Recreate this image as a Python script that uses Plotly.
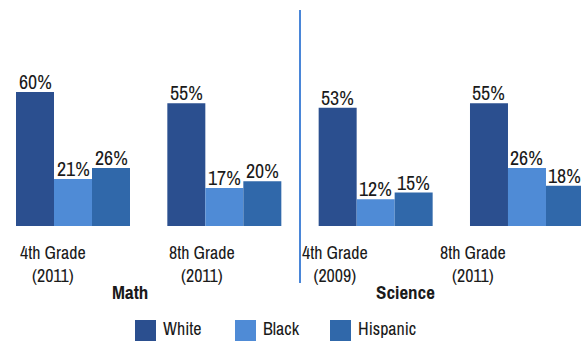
import plotly.graph_objects as go

# Percent of students at or above proficient, by grade and subject
groups = ["4th Grade<br>(2011)", "8th Grade<br>(2011)", "4th Grade<br>(2009)", "8th Grade<br>(2011)"]
series = ["White", "Black", "Hispanic"]
white = [60, 55, 53, 55]
black = [21, 17, 12, 26]
hispanic = [26, 20, 15, 18]
subjects = ["Math", "Science"]

colors = {"White": "#2b4f8f", "Black": "#4f8bd6", "Hispanic": "#3068aa"}
values = {"White": white, "Black": black, "Hispanic": hispanic}

FONT = "Archivo Narrow, Liberation Sans Narrow, Arial Narrow, sans-serif"
INK = "#1a1a1a"
W, H = 581, 341
BAR_PX = 38  # pixel width of one bar inside a group
x = list(range(len(groups)))

fig = go.Figure()
for k, name in enumerate(series):
    fig.add_trace(go.Bar(
        x=x, y=values[name], name=name,
        marker=dict(color=colors[name], line=dict(width=0)),
        showlegend=False, hoverinfo="x+y",
    ))
    # value labels sitting just above each bar
    for i, v in zip(x, values[name]):
        fig.add_annotation(x=i, y=v, xref="x", yref="y", text=f"{v}%", showarrow=False,
                           xshift=(k - 1) * BAR_PX, yshift=-5, yanchor="bottom",
                           font=dict(family=FONT, size=20, color=INK))

# category labels under each group
label_shift = [-20, -22, -41, -54]
for i, g in enumerate(groups):
    fig.add_annotation(x=i, y=0, xref="x", yref="y", text=g, showarrow=False,
                       xshift=label_shift[i], yshift=-12, yanchor="top",
                       font=dict(family=FONT, size=18, color=INK), align="center")

# subject labels
subject_x = [0.377, 2.194]
for sx, s in zip(subject_x, subjects):
    fig.add_annotation(x=sx, y=0, xref="x", yref="y", text=f"<b>{s}</b>", showarrow=False,
                       yshift=-51, yanchor="top",
                       font=dict(family=FONT, size=19, color=INK))

# divider between subjects
fig.add_shape(type="line", xref="x", yref="paper", x0=1.5, x1=1.5, y0=0.956, y1=-0.252,
              line=dict(color="#4a86d8", width=2))

# legend built from swatches and labels
leg_x = [135, 235, 330]
for px, name in zip(leg_x, series):
    fig.add_shape(type="rect", xref="paper", yref="paper",
                  x0=px / W, x1=(px + 21) / W, y0=(226 - 320) / 226, y1=(226 - 345) / 226,
                  fillcolor=colors[name], line=dict(width=0))
    fig.add_annotation(xref="paper", yref="paper", x=(px + 26) / W, y=(226 - 314) / 226,
                       text=name, showarrow=False, xanchor="left", yanchor="top",
                       font=dict(family=FONT, size=18, color=INK))

fig.update_layout(
    width=W, height=H,
    margin=dict(l=0, r=0, t=0, b=115, autoexpand=False),
    paper_bgcolor="white", plot_bgcolor="white",
    barmode="group", bargap=0.2467, bargroupgap=0,
    xaxis=dict(range=[-73 / 151.33, (581 - 73) / 151.33], showticklabels=False,
               showgrid=False, zeroline=False, showline=False, ticks=""),
    yaxis=dict(range=[0, 226 / 2.233], visible=False),
)

fig.write_html("out.html")
